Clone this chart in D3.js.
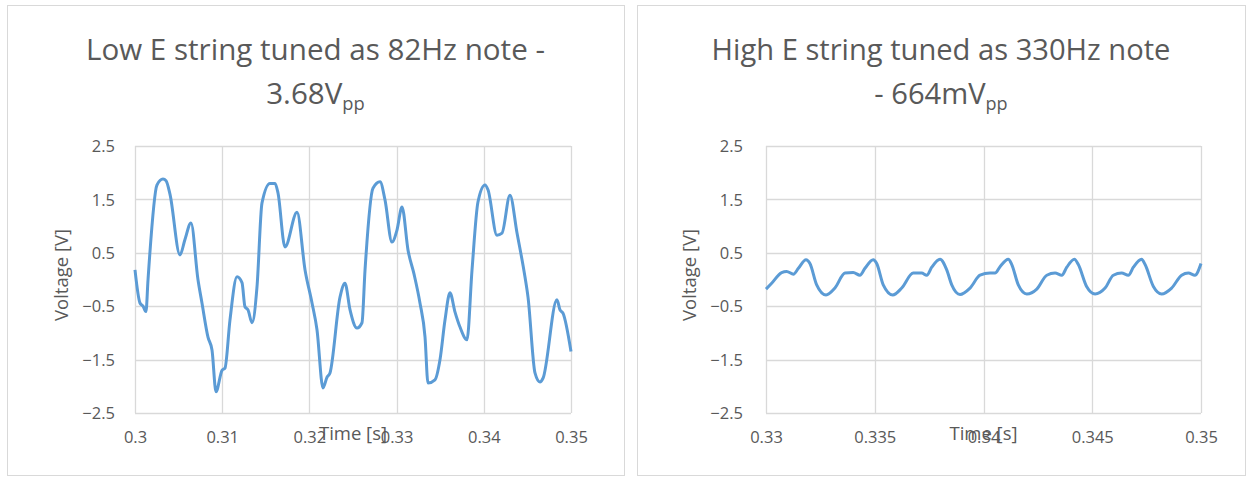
<!DOCTYPE html>
<html><head><meta charset="utf-8">
<script src="https://cdn.jsdelivr.net/npm/d3@7"></script>
<style>
html,body{margin:0;padding:0;background:#fff;}
svg{display:block;}
text{font-family:"Open Sans","Liberation Sans",sans-serif;fill:#595959;}
</style></head>
<body>
<svg id="c" width="1252" height="477"></svg>
<script>
// ---- data ----
const lowTitle = ["Low E string tuned as 82Hz note -", "3.68V", "pp"];
const highTitle = ["High E string tuned as 330Hz note", "- 664mV", "pp"];
const yTicks = [-2.5, -1.5, -0.5, 0.5, 1.5, 2.5];
const lowXTicks = [0.3, 0.31, 0.32, 0.33, 0.34, 0.35];
const highXTicks = [0.33, 0.335, 0.34, 0.345, 0.35];
const lowTime = [0.3000,0.30057,0.30092,0.30126,0.30149,0.30252,0.30321,0.30356,0.30401,0.30516,0.30573,0.30642,0.30722,0.30768,0.30837,0.30883,0.30929,0.30998,0.31032,0.31089,0.31170,0.31227,0.31261,0.31296,0.31342,0.31399,0.31456,0.31548,0.31606,0.31640,0.31720,0.31858,0.31950,0.32030,0.32087,0.32156,0.32202,0.32236,0.32351,0.32408,0.32466,0.32546,0.32603,0.32638,0.32729,0.32810,0.32867,0.32947,0.33005,0.33062,0.33131,0.33200,0.33268,0.33326,0.33360,0.33440,0.33498,0.33555,0.33612,0.33670,0.33727,0.33807,0.33865,0.33933,0.34014,0.34048,0.34151,0.34209,0.34300,0.34381,0.34472,0.34507,0.34587,0.34644,0.34679,0.34839,0.34874,0.34908,0.35000];
const lowVolt = [0.18,-0.44,-0.50,-0.60,-0.01,1.77,1.88,1.85,1.60,0.46,0.75,1.06,0.0,-0.44,-1.08,-1.32,-2.10,-1.70,-1.66,-0.76,0.05,-0.06,-0.51,-0.57,-0.81,-0.14,1.43,1.80,1.80,1.62,0.61,1.26,0.18,-0.44,-0.94,-2.03,-1.83,-1.75,-0.33,-0.07,-0.57,-0.91,-0.81,0.18,1.71,1.83,1.49,0.70,0.93,1.36,0.55,0.10,-0.44,-1.08,-1.94,-1.88,-1.50,-0.76,-0.25,-0.61,-0.89,-1.13,0.18,1.45,1.77,1.68,0.83,0.87,1.58,0.87,0.05,-0.33,-1.75,-1.92,-1.85,-0.38,-0.57,-0.63,-1.35];
const highTime = [0.33000,0.33026,0.33072,0.33095,0.33126,0.33149,0.33184,0.33202,0.33233,0.33276,0.33317,0.33363,0.33401,0.33432,0.33455,0.33493,0.33509,0.33539,0.33583,0.33624,0.33677,0.33716,0.33739,0.33762,0.33800,0.33831,0.33854,0.33892,0.33938,0.33984,0.34030,0.34053,0.34076,0.34114,0.34130,0.34160,0.34199,0.34245,0.34291,0.34329,0.34360,0.34383,0.34418,0.34436,0.34474,0.34513,0.34559,0.34597,0.34635,0.34666,0.34689,0.34727,0.34743,0.34781,0.34819,0.34865,0.34911,0.34942,0.34972,0.35000];
const highVolt = [-0.18,-0.07,0.13,0.15,0.10,0.21,0.37,0.30,-0.10,-0.29,-0.16,0.12,0.13,0.08,0.21,0.37,0.30,-0.10,-0.29,-0.16,0.12,0.12,0.08,0.23,0.38,0.18,-0.10,-0.28,-0.16,0.08,0.12,0.12,0.24,0.38,0.28,-0.10,-0.27,-0.18,0.08,0.12,0.08,0.23,0.38,0.28,-0.13,-0.27,-0.16,0.08,0.12,0.08,0.23,0.38,0.28,-0.13,-0.27,-0.16,0.08,0.12,0.08,0.30];
const yLabel = "Voltage [V]";
const xLabel = "Time [s]";

const svg = d3.select("#c");
const grid = "#d9d9d9", lineCol = "#5b9bd5";
const tickFs = 16.5, titleFs = 18.5;

function panel(o) {
  const g = svg.append("g");
  g.append("rect").attr("x", o.px0 + 0.5).attr("y", 5.5).attr("width", o.px1 - o.px0).attr("height", 470)
    .attr("fill", "#fff").attr("stroke", grid).attr("stroke-width", 1);
  const x = d3.scaleLinear().domain([o.xTicks[0], o.xTicks[o.xTicks.length - 1]]).range([o.left, o.right]);
  const y = d3.scaleLinear().domain([-2.5, 2.5]).range([413, 146]);
  // grid
  g.append("g").selectAll("line.h").data(yTicks).join("line")
    .attr("x1", o.left).attr("x2", o.right).attr("y1", d => Math.round(y(d)) + 0.5).attr("y2", d => Math.round(y(d)) + 0.5)
    .attr("stroke", grid).attr("stroke-width", 1.3);
  g.append("g").selectAll("line.v").data(o.xTicks).join("line")
    .attr("y1", 146).attr("y2", 413).attr("x1", d => Math.round(x(d)) + 0.5).attr("x2", d => Math.round(x(d)) + 0.5)
    .attr("stroke", grid).attr("stroke-width", 1.3);
  // y axis labels
  const yAx = d3.axisLeft(y).tickValues(yTicks).tickSize(0).tickPadding(0).tickFormat(d3.format(".1f"));
  const ya = g.append("g").attr("transform", `translate(${o.yLabRight},0)`).call(yAx);
  ya.select(".domain").remove();
  ya.selectAll("text").attr("font-size", tickFs).attr("fill", "#595959").attr("dy", "0.35em")
    .attr("font-family", '"Open Sans",sans-serif');
  // x axis labels
  const xAx = d3.axisBottom(x).tickValues(o.xTicks).tickSize(0).tickPadding(0).tickFormat(d => String(+d.toFixed(3)));
  const xa = g.append("g").attr("transform", `translate(0,431)`).call(xAx);
  xa.select(".domain").remove();
  xa.selectAll("text").attr("font-size", tickFs).attr("fill", "#595959").attr("dy", "0.71em")
    .attr("font-family", '"Open Sans",sans-serif');
  // line
  const pts = o.t.map((t, i) => [t, o.v[i]]);
  g.append("path").datum(pts).attr("fill", "none").attr("stroke", lineCol).attr("stroke-width", 3)
    .attr("stroke-linejoin", "round")
    .attr("d", d3.line().x(d => x(d[0])).y(d => y(d[1])).curve(d3.curveMonotoneX));
  // axis titles
  g.append("text").attr("transform", `translate(${o.yTitleX},275) rotate(-90)`).attr("text-anchor", "middle")
    .attr("dy", "0.35em").attr("font-size", titleFs).text(yLabel);
  g.append("text").attr("x", (o.left + o.right) / 2).attr("y", 440).attr("text-anchor", "middle")
    .attr("font-size", titleFs).text(xLabel);
  // title
  const cx = (o.px0 + o.px1) / 2;
  const t1 = g.append("text").attr("x", cx).attr("y", 60).attr("text-anchor", "middle").attr("font-size", 26).text(o.title[0]);
  const w = t1.node().getComputedTextLength();
  const fs = 26 * 459 / w;
  t1.attr("font-size", fs);
  const t2 = g.append("text").attr("x", cx).attr("y", 104).attr("text-anchor", "middle").attr("font-size", fs);
  t2.append("tspan").text(o.title[1]);
  t2.append("tspan").attr("font-size", fs * 0.62).attr("dy", 6).text(o.title[2]);
}

panel({px0: 7, px1: 624, left: 135, right: 571, yLabRight: 115, yTitleX: 62,
  xTicks: lowXTicks, t: lowTime, v: lowVolt, title: lowTitle});
panel({px0: 637, px1: 1245, left: 766, right: 1201, yLabRight: 743, yTitleX: 690,
  xTicks: highXTicks, t: highTime, v: highVolt, title: highTitle});
</script>
</body></html>
